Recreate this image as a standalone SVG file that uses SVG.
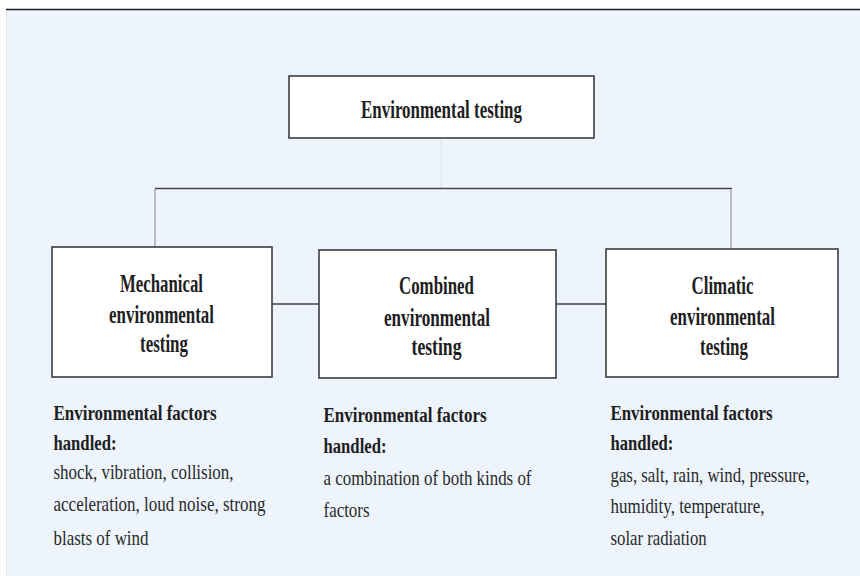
<svg xmlns="http://www.w3.org/2000/svg" width="860" height="576" viewBox="0 0 860 576">
  <style>
    .box { fill: #ffffff; stroke: #3a3d41; stroke-width: 1.6; }
    .title { font-family: "Liberation Serif", "Times New Roman", serif; font-weight: bold; font-size: 25px; fill: #1e1e1e; text-anchor: middle; }
    .head { font-family: "Liberation Serif", "Times New Roman", serif; font-weight: bold; font-size: 22px; fill: #1e1e1e; }
    .body { font-family: "Liberation Serif", "Times New Roman", serif; font-size: 22px; fill: #2a2a2a; }
    .dark { stroke: #41464b; stroke-width: 1.6; fill: none; }
    .pale { stroke: #aab0b6; stroke-width: 1.6; fill: none; }
    .faint { stroke: #dfe6ee; stroke-width: 1.2; fill: none; }
  </style>

  <!-- page background and top rule -->
  <rect x="0" y="0" width="860" height="576" fill="#ffffff"/>
  <rect x="7" y="10" width="853" height="566" fill="#edf4fc"/>
  <line x1="6.5" y1="10" x2="6.5" y2="576" stroke="#e2e6ea" stroke-width="1"/>
  <line x1="6" y1="9.5" x2="860" y2="9.5" stroke="#1b2026" stroke-width="1.6"/>

  <!-- connectors -->
  <g id="connectors">
    <line class="faint" x1="441" y1="138" x2="441" y2="188.5"/>
    <line class="dark" x1="155" y1="188.5" x2="732" y2="188.5"/>
    <line class="pale" x1="155" y1="189" x2="155" y2="247"/>
    <line class="pale" x1="731" y1="189" x2="731" y2="249"/>
    <line class="dark" x1="272" y1="304" x2="319" y2="304"/>
    <line class="dark" x1="556" y1="304" x2="606" y2="304"/>
  </g>

  <!-- root node -->
  <g id="environmental-testing">
    <rect class="box" x="289" y="76" width="305" height="62"/>
    <text class="title" x="441.5" y="118" textLength="161" lengthAdjust="spacingAndGlyphs">Environmental testing</text>
  </g>

  <!-- mechanical -->
  <g id="mechanical">
    <rect class="box" x="52" y="247" width="220" height="130"/>
    <text class="title" x="161.5" y="292" textLength="83" lengthAdjust="spacingAndGlyphs">Mechanical</text>
    <text class="title" x="161.5" y="322.5" textLength="105" lengthAdjust="spacingAndGlyphs">environmental</text>
    <text class="title" x="164" y="352" textLength="48" lengthAdjust="spacingAndGlyphs">testing</text>
  </g>

  <!-- combined -->
  <g id="combined">
    <rect class="box" x="319" y="250" width="237" height="128"/>
    <text class="title" x="436.5" y="294" textLength="75" lengthAdjust="spacingAndGlyphs">Combined</text>
    <text class="title" x="437" y="325.5" textLength="106" lengthAdjust="spacingAndGlyphs">environmental</text>
    <text class="title" x="436.5" y="355" textLength="50" lengthAdjust="spacingAndGlyphs">testing</text>
  </g>

  <!-- climatic -->
  <g id="climatic">
    <rect class="box" x="606" y="249" width="232" height="128"/>
    <text class="title" x="722.5" y="294" textLength="62" lengthAdjust="spacingAndGlyphs">Climatic</text>
    <text class="title" x="722.5" y="325" textLength="105" lengthAdjust="spacingAndGlyphs">environmental</text>
    <text class="title" x="724" y="355" textLength="48" lengthAdjust="spacingAndGlyphs">testing</text>
  </g>

  <!-- factor descriptions -->
  <g id="mechanical-factors">
    <text class="head" x="53.5" y="419.5" textLength="163" lengthAdjust="spacingAndGlyphs">Environmental factors</text>
    <text class="head" x="53.5" y="450" textLength="63" lengthAdjust="spacingAndGlyphs">handled:</text>
    <text class="body" x="53.5" y="479" textLength="180" lengthAdjust="spacingAndGlyphs">shock, vibration, collision,</text>
    <text class="body" x="53.5" y="511" textLength="212" lengthAdjust="spacingAndGlyphs">acceleration, loud noise, strong</text>
    <text class="body" x="53.5" y="545" textLength="95" lengthAdjust="spacingAndGlyphs">blasts of wind</text>
  </g>

  <g id="combined-factors">
    <text class="head" x="323.5" y="422" textLength="163" lengthAdjust="spacingAndGlyphs">Environmental factors</text>
    <text class="head" x="323.5" y="453" textLength="63" lengthAdjust="spacingAndGlyphs">handled:</text>
    <text class="body" x="323.5" y="485" textLength="208" lengthAdjust="spacingAndGlyphs">a combination of both kinds of</text>
    <text class="body" x="323.5" y="516.5" textLength="46" lengthAdjust="spacingAndGlyphs">factors</text>
  </g>

  <!-- narrow column: condensed horizontally by a scale so lines stay inside the page -->
  <g id="climatic-factors" transform="translate(610.5 0) scale(0.74 1)">
    <text class="head" x="0" y="420" textLength="219" lengthAdjust="spacingAndGlyphs">Environmental factors</text>
    <text class="head" x="0" y="450" textLength="85" lengthAdjust="spacingAndGlyphs">handled:</text>
    <text class="body" x="0" y="482" textLength="269" lengthAdjust="spacingAndGlyphs">gas, salt, rain, wind, pressure,</text>
    <text class="body" x="0" y="513" textLength="208" lengthAdjust="spacingAndGlyphs">humidity, temperature,</text>
    <text class="body" x="0" y="545" textLength="130" lengthAdjust="spacingAndGlyphs">solar radiation</text>
  </g>
</svg>
